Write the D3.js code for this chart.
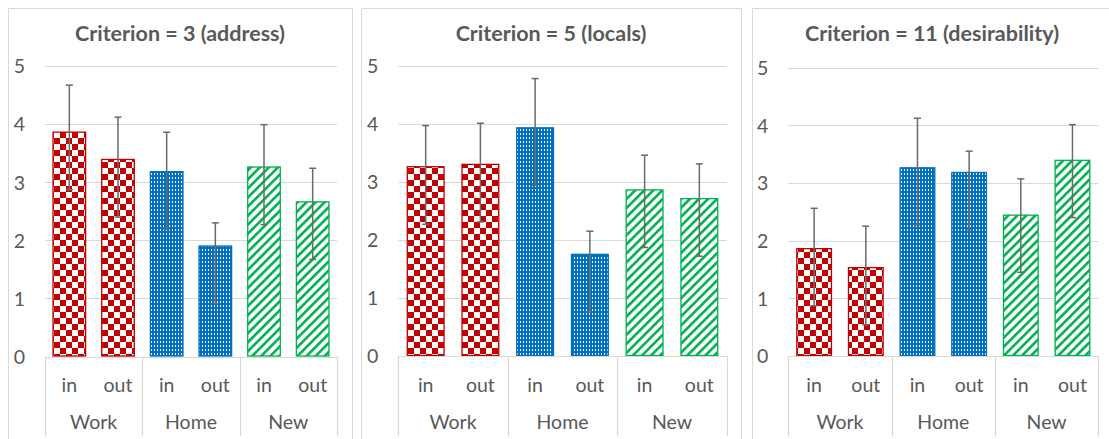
<!DOCTYPE html>
<html>
<head>
<meta charset="utf-8">
<script src="https://cdn.jsdelivr.net/npm/d3@7"></script>
<style>
  html, body { margin: 0; padding: 0; background: #fff; }
  svg { display: block; }
  text { font-family: Lato, "Open Sans", sans-serif; fill: #595959; }
</style>
</head>
<body>
<svg id="chart" width="1109" height="439"></svg>
<script>
// ---- data ----
const groups = ["Work", "Home", "New"];
const subGroups = ["in", "out"];
const panelTitles = ["Criterion = 3 (address)", "Criterion = 5 (locals)", "Criterion = 11 (desirability)"];
const yTicks = [0, 1, 2, 3, 4, 5];

const c3Values    = [3.87, 3.40, 3.19, 1.91, 3.27, 2.67];
const c3ErrPlus   = [0.80, 0.72, 0.67, 0.39, 0.72, 0.57];
const c3ErrMinus  = [1.00, 1.00, 1.00, 1.00, 1.00, 1.00];

const c5Values    = [3.27, 3.31, 3.94, 1.76, 2.87, 2.72];
const c5ErrPlus   = [0.70, 0.70, 0.84, 0.39, 0.59, 0.59];
const c5ErrMinus  = [1.00, 1.00, 1.00, 1.00, 1.00, 1.00];

const c11Values   = [1.87, 1.54, 3.27, 3.19, 2.45, 3.40];
const c11ErrPlus  = [0.69, 0.71, 0.85, 0.36, 0.62, 0.61];
const c11ErrMinus = [1.00, 1.00, 1.00, 1.00, 1.00, 1.00];

const panelValues = [c3Values, c5Values, c11Values];
const panelErrPlus = [c3ErrPlus, c5ErrPlus, c11ErrPlus];
const panelErrMinus = [c3ErrMinus, c5ErrMinus, c11ErrMinus];

// ---- layout & style ----
const layout = [
  { bx0: 8,   bx1: 352,  left: 45,    right: 337,   top: 66,   bottom: 356.5 },
  { bx0: 361, bx1: 741,  left: 398.3, right: 726.7, top: 65.8, bottom: 356 },
  { bx0: 752, bx1: 1112, left: 788.3, right: 1098.3, top: 67.5, bottom: 356 }
];
const borderTop = 8;
const axisBottom = 436;
const gridColor = "#D9D9D9";
const colors = { Work: "#C00000", Home: "#0070C0", New: "#00B050" };

const svg = d3.select("#chart");
const defs = svg.append("defs");

// checkerboard (Work)
const pChk = defs.append("pattern").attr("id", "pat-Work")
  .attr("patternUnits", "userSpaceOnUse").attr("width", 12).attr("height", 12);
pChk.append("rect").attr("width", 12).attr("height", 12).attr("fill", "#fff");
pChk.append("rect").attr("x", 0).attr("y", 0).attr("width", 6).attr("height", 6).attr("fill", colors.Work);
pChk.append("rect").attr("x", 6).attr("y", 6).attr("width", 6).attr("height", 6).attr("fill", colors.Work);

// dotted grid (Home)
const pDot = defs.append("pattern").attr("id", "pat-Home")
  .attr("patternUnits", "userSpaceOnUse").attr("width", 3).attr("height", 4);
pDot.append("rect").attr("width", 3).attr("height", 4).attr("fill", colors.Home);
pDot.append("rect").attr("x", 1).attr("y", 1).attr("width", 1).attr("height", 2).attr("fill", "#ffffff");

// diagonal stripes (New)
const pStr = defs.append("pattern").attr("id", "pat-New")
  .attr("patternUnits", "userSpaceOnUse").attr("width", 6.4).attr("height", 6.4)
  .attr("patternTransform", "rotate(45)");
pStr.append("rect").attr("width", 6.4).attr("height", 6.4).attr("fill", "#fff");
pStr.append("rect").attr("x", 0).attr("y", 0).attr("width", 2.6).attr("height", 6.4).attr("fill", colors.New);

layout.forEach((L, pi) => {
  const g = svg.append("g");
  const values = panelValues[pi];
  const ep = panelErrPlus[pi];
  const em = panelErrMinus[pi];

  // panel border
  g.append("path")
    .attr("d", `M${L.bx0 + 0.5},${axisBottom + 10} V${borderTop + 0.5} H${L.bx1 + 0.5} V${axisBottom + 10}`)
    .attr("fill", "none").attr("stroke", gridColor).attr("stroke-width", 1);

  // title
  g.append("text")
    .attr("x", (L.bx0 + L.bx1) / 2).attr("y", 41)
    .attr("text-anchor", "middle")
    .style("font-weight", "bold").style("font-size", "21.5px")
    .text(panelTitles[pi]);

  const y = d3.scaleLinear().domain([0, 5]).range([L.bottom, L.top]);
  const items = [];
  groups.forEach(gr => subGroups.forEach(sg => items.push(gr + "|" + sg)));
  const x = d3.scaleBand().domain(items).range([L.left, L.right])
    .paddingInner(0.31).paddingOuter(0.155);
  const groupScale = d3.scaleBand().domain(groups).range([L.left, L.right]);

  // gridlines
  g.selectAll(".grid").data(yTicks.filter(t => t > 0)).join("line")
    .attr("x1", L.left).attr("x2", L.right)
    .attr("y1", d => Math.round(y(d)) + 0.5).attr("y2", d => Math.round(y(d)) + 0.5)
    .attr("stroke", gridColor).attr("stroke-width", 1.2);

  // y axis labels
  const yAxis = d3.axisLeft(y).tickValues(yTicks).tickSize(0).tickPadding(20).tickFormat(d3.format("d"));
  const ya = g.append("g").attr("transform", `translate(${L.left},0)`).call(yAxis);
  ya.select(".domain").remove();
  ya.selectAll("text").style("font-size", "19.5px").attr("fill", "#595959")
    .style("font-family", "Lato, sans-serif").attr("dy", "0.35em");

  // bars
  g.selectAll(".bar").data(items).join("rect")
    .attr("x", d => x(d) + 0.5)
    .attr("width", x.bandwidth() - 1)
    .attr("y", (d, i) => y(values[i]) + 0.5)
    .attr("height", (d, i) => y(0) - y(values[i]) - 1)
    .attr("fill", d => `url(#pat-${d.split("|")[0]})`)
    .attr("stroke", d => colors[d.split("|")[0]])
    .attr("stroke-width", 1.3);

  // error bars
  const eg = g.append("g").attr("stroke", "#6a6a6a").attr("stroke-width", 1.5);
  items.forEach((d, i) => {
    const cx = x(d) + x.bandwidth() / 2;
    const yHi = y(values[i] + ep[i]);
    const yLo = y(values[i] - em[i]);
    eg.append("line").attr("x1", cx).attr("x2", cx).attr("y1", yHi).attr("y2", yLo);
    eg.append("line").attr("x1", cx - 3.5).attr("x2", cx + 3.5).attr("y1", yHi).attr("y2", yHi);
    eg.append("line").attr("x1", cx - 3.5).attr("x2", cx + 3.5).attr("y1", yLo).attr("y2", yLo);
  });

  // category axis line & dividers
  g.append("line").attr("x1", L.left).attr("x2", L.right)
    .attr("y1", Math.round(L.bottom) + 0.5).attr("y2", Math.round(L.bottom) + 0.5)
    .attr("stroke", gridColor).attr("stroke-width", 1.2);
  const dividers = groups.map(gr => groupScale(gr)).concat([L.right]);
  g.selectAll(".div").data(dividers).join("line")
    .attr("x1", d => Math.round(d) + 0.5).attr("x2", d => Math.round(d) + 0.5)
    .attr("y1", L.bottom).attr("y2", axisBottom)
    .attr("stroke", gridColor).attr("stroke-width", 1.2);

  // sub labels
  g.selectAll(".sub").data(items).join("text")
    .attr("x", d => x(d) + x.bandwidth() / 2).attr("y", 391.5)
    .attr("text-anchor", "middle").style("font-size", "19.5px")
    .text(d => d.split("|")[1]);

  // group labels
  g.selectAll(".grp").data(groups).join("text")
    .attr("x", d => groupScale(d) + groupScale.bandwidth() / 2).attr("y", 428.5)
    .attr("text-anchor", "middle").style("font-size", "19.5px")
    .text(d => d);
});
</script>
</body>
</html>
